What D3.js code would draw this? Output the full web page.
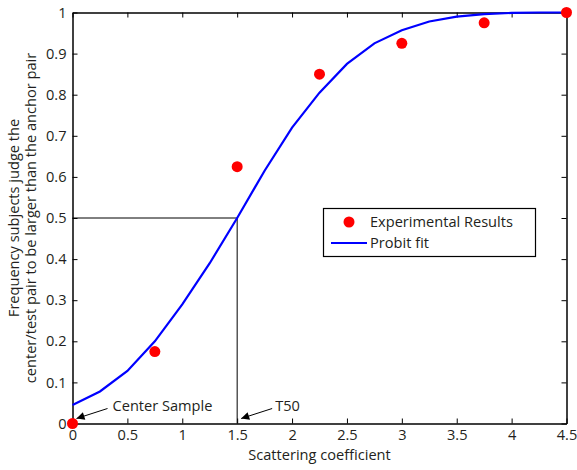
<!DOCTYPE html>
<html><head><meta charset="utf-8">
<script src="https://cdn.jsdelivr.net/npm/d3@7"></script>
<style>body{margin:0;background:#fff}svg{display:block}text{font-family:"Open Sans","Noto Sans",sans-serif;fill:#231f20}</style>
</head><body><svg id="c" width="577" height="470"></svg>
<script>
const expX = [0, 0.75, 1.5, 2.25, 3, 3.75, 4.5];
const expY = [0, 0.175, 0.625, 0.85, 0.925, 0.975, 1];
const fitX = [0, 0.25, 0.5, 0.75, 1, 1.25, 1.5, 1.75, 2, 2.25, 2.5, 2.75, 3, 3.25, 3.5, 3.75, 4, 4.25, 4.5];
const fitY = [0.045, 0.078, 0.128, 0.2, 0.29, 0.39, 0.5, 0.615, 0.72, 0.805, 0.875, 0.925, 0.957, 0.978, 0.99, 0.996, 0.999, 1, 1];
const xTicks = [0, 0.5, 1, 1.5, 2, 2.5, 3, 3.5, 4, 4.5];
const yTicks = [0, 0.1, 0.2, 0.3, 0.4, 0.5, 0.6, 0.7, 0.8, 0.9, 1];
const t50 = 1.5, t50Y = 0.5;

const FS = "14.6px";
const svg = d3.select("#c");
const L = 72.5, R = 566.5, T = 12.5, B = 423.5;
const x = d3.scaleLinear().domain([0, 4.5]).range([L, R]);
const y = d3.scaleLinear().domain([0, 1]).range([B, T]);
const fmt = d => d === 0 ? "0" : d === 1 ? "1" : String(d);

const axB = svg.append("g").attr("transform", `translate(0,${B})`)
  .call(d3.axisBottom(x).tickValues(xTicks).tickFormat(fmt).tickSizeInner(-5).tickSizeOuter(0).tickPadding(6));
const axT = svg.append("g").attr("transform", `translate(0,${T})`)
  .call(d3.axisTop(x).tickValues(xTicks).tickFormat("").tickSizeInner(-5).tickSizeOuter(0));
const axL = svg.append("g").attr("transform", `translate(${L},0)`)
  .call(d3.axisLeft(y).tickValues(yTicks).tickFormat(fmt).tickSizeInner(-5).tickSizeOuter(0).tickPadding(6));
const axR = svg.append("g").attr("transform", `translate(${R},0)`)
  .call(d3.axisRight(y).tickValues(yTicks).tickFormat("").tickSizeInner(-5).tickSizeOuter(0));
[axB, axT, axL, axR].forEach(g => {
  g.selectAll(".domain").attr("stroke", "#000").attr("stroke-width", 1.5);
  g.selectAll(".tick line").attr("stroke", "#000");
  g.selectAll("text").style("font-size", FS).attr("fill", "#231f20").style("font-family", '"Open Sans","Noto Sans",sans-serif');
});

// T50 guide lines
svg.append("path").attr("fill", "none").attr("stroke", "#000").attr("stroke-width", 1)
  .attr("d", `M${x(0)},${y(t50Y)}H${x(t50)}V${y(0)}`);

// fit line
svg.append("path").datum(fitX.map((v, i) => [v, fitY[i]]))
  .attr("fill", "none").attr("stroke", "#0000ff").attr("stroke-width", 2.2)
  .attr("d", d3.line().x(d => x(d[0])).y(d => y(d[1])));

// points
svg.selectAll("circle.pt").data(expX.map((v, i) => [v, expY[i]])).enter().append("circle")
  .attr("cx", d => x(d[0])).attr("cy", d => y(d[1])).attr("r", 5.5).attr("fill", "#ff0000");

// arrows
const defs = svg.append("defs");
defs.append("marker").attr("id", "ah").attr("viewBox", "0 0 10 10").attr("refX", 10).attr("refY", 5)
  .attr("markerWidth", 12).attr("markerHeight", 8).attr("markerUnits", "userSpaceOnUse").attr("orient", "auto")
  .append("path").attr("d", "M0,0L10,5L0,10z").attr("fill", "#000");
function arrow(x1, y1, x2, y2) {
  svg.append("line").attr("x1", x1).attr("y1", y1).attr("x2", x2).attr("y2", y2)
    .attr("stroke", "#000").attr("stroke-width", 1).attr("marker-end", "url(#ah)");
}
arrow(x(0) + 35, y(0) - 15, x(0) + 4, y(0) - 5);
svg.append("text").attr("x", x(0) + 40).attr("y", y(0) - 13).style("font-size", FS).text("Center Sample");
arrow(x(t50) + 35, y(0) - 15, x(t50) + 4, y(0) - 5);
svg.append("text").attr("x", x(t50) + 38).attr("y", y(0) - 13).style("font-size", FS).text("T50");

// legend
const lg = svg.append("g");
lg.append("rect").attr("x", 323.5).attr("y", 208.5).attr("width", 212).attr("height", 48)
  .attr("fill", "#fff").attr("stroke", "#000").attr("stroke-width", 1.2);
lg.append("circle").attr("cx", 349).attr("cy", 222).attr("r", 5.5).attr("fill", "#ff0000");
lg.append("line").attr("x1", 331).attr("x2", 367).attr("y1", 243).attr("y2", 243).attr("stroke", "#0000ff").attr("stroke-width", 2.2);
lg.append("text").attr("x", 370).attr("y", 227).style("font-size", FS).text("Experimental Results");
lg.append("text").attr("x", 370).attr("y", 248).style("font-size", FS).text("Probit fit");

// axis labels
svg.append("text").attr("x", (L + R) / 2).attr("y", 460).attr("text-anchor", "middle").style("font-size", FS).text("Scattering coefficient");
const yl = svg.append("text").attr("transform", `translate(0,${(T + B) / 2}) rotate(-90)`).attr("text-anchor", "middle").style("font-size", FS);
yl.append("tspan").attr("x", 0).attr("y", 19).text("Frequency subjects judge the");
yl.append("tspan").attr("x", 0).attr("y", 36).text("center/test pair to be larger than the anchor pair");
</script></body></html>
